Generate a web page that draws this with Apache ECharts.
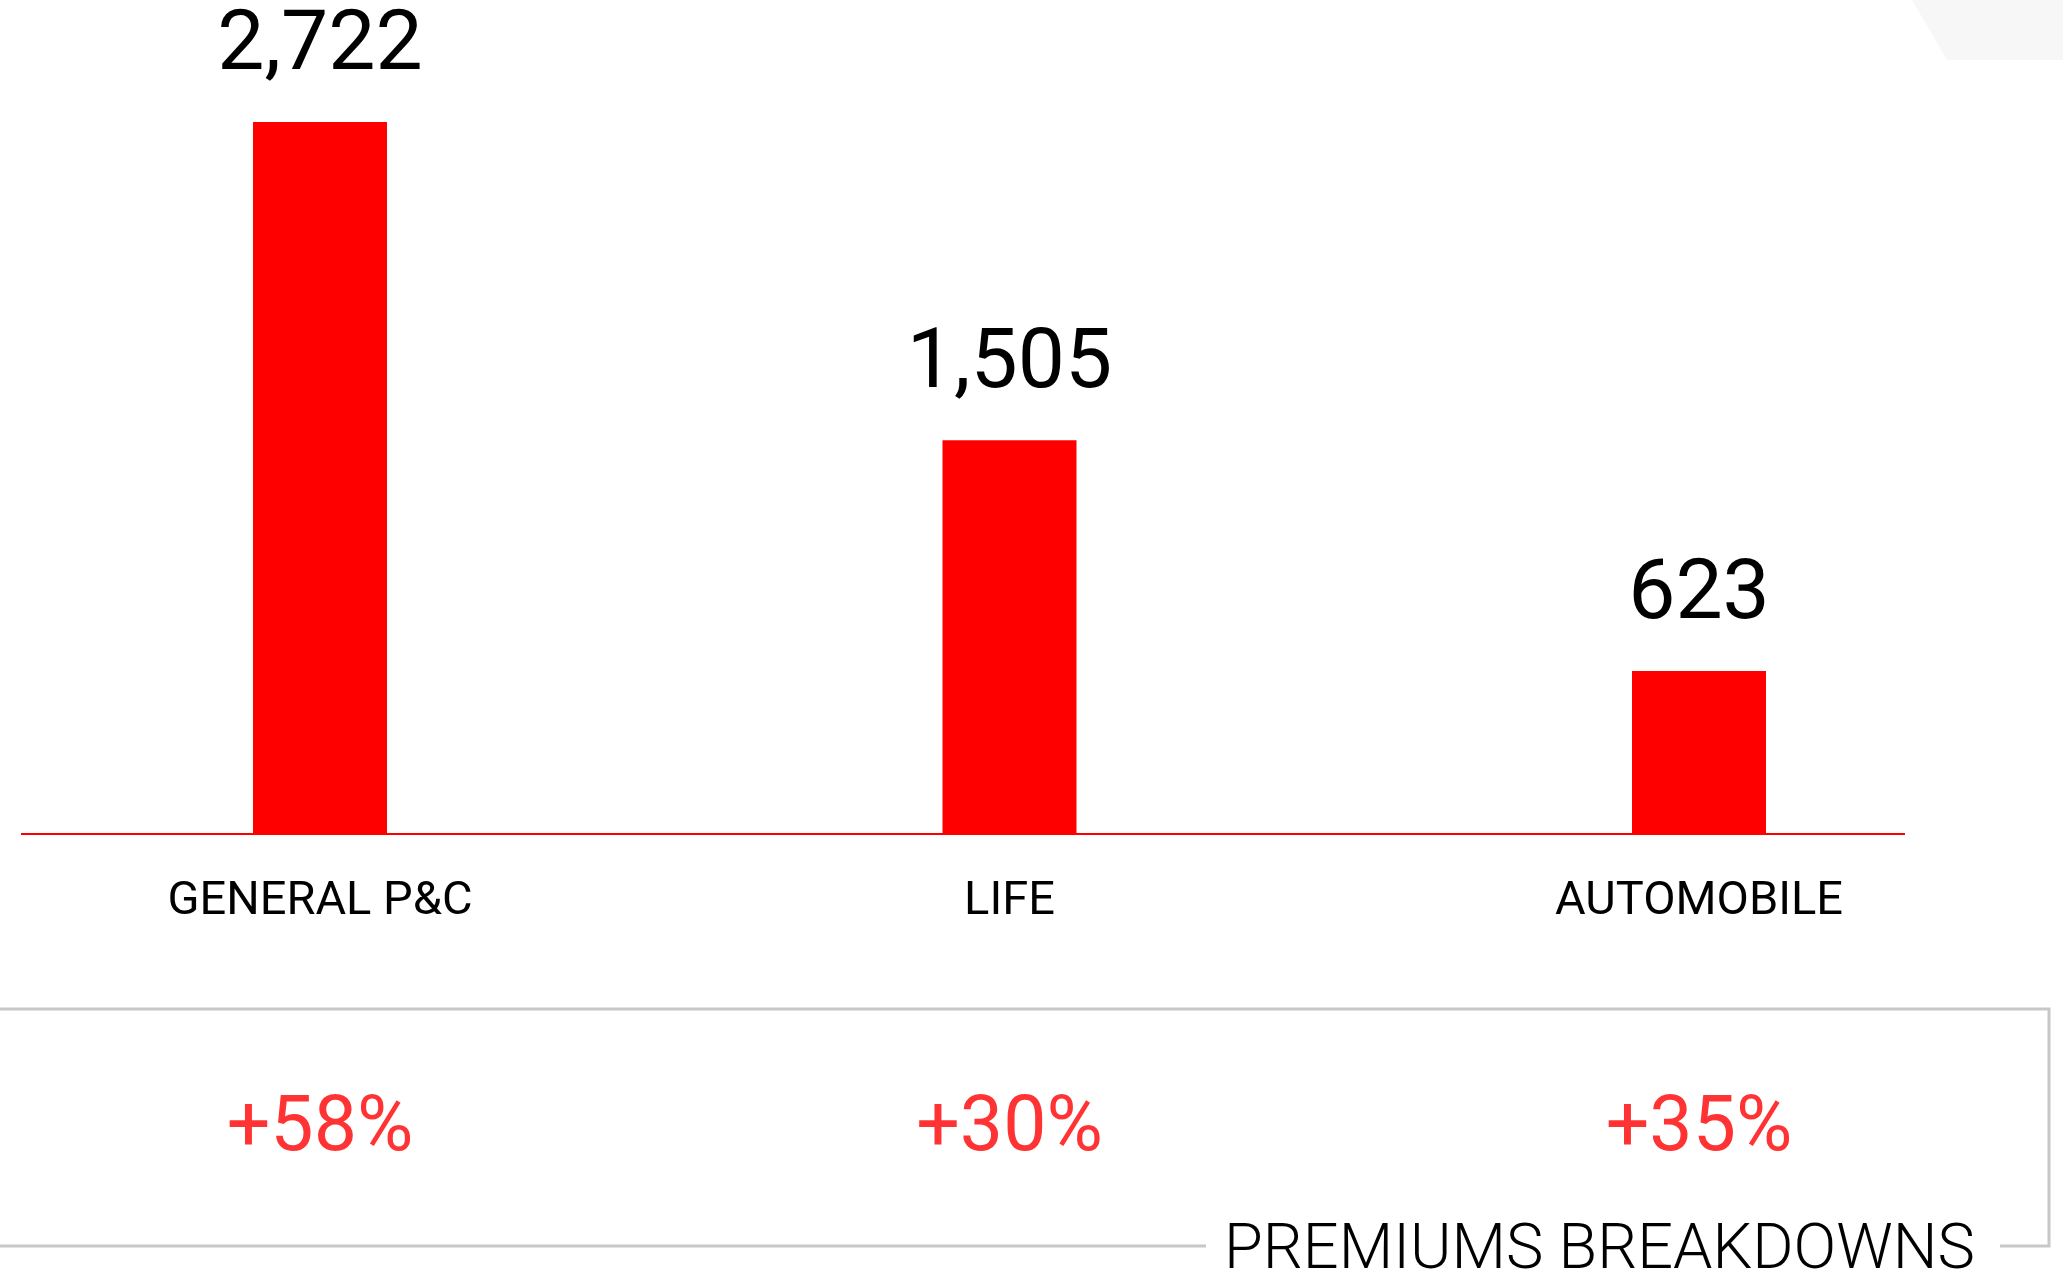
<!DOCTYPE html>
<html>
<head>
<meta charset="utf-8">
<script src="https://cdn.jsdelivr.net/npm/echarts@6/dist/echarts.min.js"></script>
<style>
html, body { margin: 0; padding: 0; background: #fff; }
#main { width: 2063px; height: 1272px; }
</style>
</head>
<body>
<div id="main"></div>
<script>
// data
var categories = ['GENERAL P&C', 'LIFE', 'AUTOMOBILE'];
var premiums = [2722, 1505, 623];
var growth = ['+58%', '+30%', '+35%'];
var chartTitle = 'PREMIUMS BREAKDOWNS';

var myChart = echarts.init(document.getElementById('main'));

var font = 'Roboto, "DejaVu Sans", sans-serif';
var lineColor = '#c8c8c8';

// first and last bar sit on the grid edges (boundaryGap false)
var option = {
    animation: false,
    backgroundColor: '#fff',
    grid: [
        {left: 320, right: 364, top: 122, bottom: 438},
        {left: 320, right: 364, top: 1081, bottom: 91}
    ],
    xAxis: [
        {
            type: 'category',
            gridIndex: 0,
            boundaryGap: false,
            data: categories,
            axisLine: {show: false},
            axisTick: {show: false},
            axisLabel: {
                margin: 45,
                color: '#000',
                fontSize: 47,
                fontFamily: font,
                fontWeight: 'normal'
            }
        },
        {
            type: 'category',
            gridIndex: 1,
            boundaryGap: false,
            data: categories,
            show: false
        }
    ],
    yAxis: [
        {type: 'value', gridIndex: 0, min: 0, max: 2722, show: false},
        {type: 'value', gridIndex: 1, min: -1, max: 1, show: false}
    ],
    series: [
        {
            type: 'bar',
            xAxisIndex: 0,
            yAxisIndex: 0,
            clip: false,
            data: premiums,
            barWidth: 134,
            itemStyle: {color: '#ff0000'},
            label: {
                show: true,
                position: 'top',
                distance: 32,
                color: '#000',
                fontSize: 84,
                fontFamily: font,
                fontWeight: 'normal',
                formatter: function (p) {
                    return p.value.toLocaleString('en-US');
                }
            }
        },
        {
            type: 'scatter',
            xAxisIndex: 1,
            yAxisIndex: 1,
            clip: false,
            symbolSize: 1,
            itemStyle: {color: 'rgba(0,0,0,0)'},
            data: growth.map(function () { return 0; }),
            label: {
                show: true,
                position: 'inside',
                color: '#ff0000',
                fontSize: 77,
                fontFamily: font,
                fontWeight: 'normal',
                formatter: function (p) {
                    return growth[p.dataIndex];
                }
            }
        }
    ]
};

myChart.setOption(option);

// axis baseline + frame below (decoration)
var baseY = myChart.convertToPixel({gridIndex: 0}, [0, 0])[1];

myChart.setOption({
    graphic: [
        {
            type: 'polygon',
            shape: {points: [[1912, 0], [2063, 0], [2063, 60], [1947, 60]]},
            style: {fill: '#f7f7f7'},
            z: -1
        },
        {
            type: 'line',
            shape: {x1: 21, y1: baseY, x2: 1905, y2: baseY},
            style: {stroke: '#ff0000', lineWidth: 2},
            z: 10
        },
        {
            type: 'polyline',
            shape: {points: [[0, 1009], [2049, 1009], [2049, 1246], [2000, 1246]]},
            style: {stroke: lineColor, lineWidth: 3, fill: null}
        },
        {
            type: 'line',
            shape: {x1: 0, y1: 1246, x2: 1206, y2: 1246},
            style: {stroke: lineColor, lineWidth: 3}
        },
        {
            type: 'text',
            x: 1224,
            y: 1252,
            style: {
                text: chartTitle,
                fill: '#000',
                font: '300 63px ' + font,
                verticalAlign: 'middle',
                align: 'left'
            }
        }
    ]
});
</script>
</body>
</html>
